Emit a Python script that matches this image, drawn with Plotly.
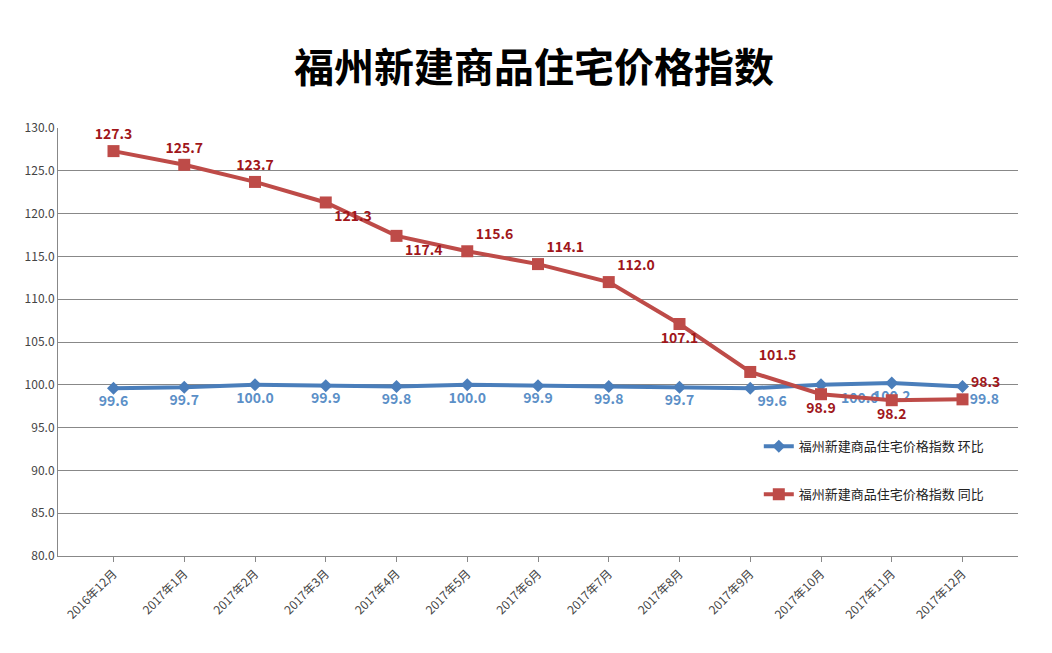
import plotly.graph_objects as go

months = ["2016年12月", "2017年1月", "2017年2月", "2017年3月", "2017年4月", "2017年5月", "2017年6月",
          "2017年7月", "2017年8月", "2017年9月", "2017年10月", "2017年11月", "2017年12月"]
huanbi = [99.6, 99.7, 100.0, 99.9, 99.8, 100.0, 99.9, 99.8, 99.7, 99.6, 100.0, 100.2, 99.8]
tongbi = [127.3, 125.7, 123.7, 121.3, 117.4, 115.6, 114.1, 112.0, 107.1, 101.5, 98.9, 98.2, 98.3]

blue_pos = ["bottom center"] * 9 + ["bottom right", "bottom right", "bottom center", "bottom right"]
red_pos = ["top center", "top center", "top center", "bottom right", "bottom right", "top right",
           "top right", "top right", "bottom center", "top right", "bottom center", "bottom center",
           "top right"]
blue_txt = [f"{v:.1f}" for v in huanbi]
blue_txt[10] = "    " + blue_txt[10]  # nudge right, away from 98.9

font = "Noto Sans CJK SC"
fig = go.Figure()
fig.add_trace(go.Scatter(
    x=months, y=huanbi, name="福州新建商品住宅价格指数 环比", mode="lines+markers+text",
    legendgroup="a",
    line=dict(color="#4a7ebb", width=4), marker=dict(symbol="diamond", size=10, color="#4a7ebb"),
    text=blue_txt, textposition=blue_pos,
    texttemplate="<b>%{text}</b>",
    textfont=dict(color="#5b8fc7", size=14, family=font),
))
fig.add_trace(go.Scatter(
    x=months, y=tongbi, name="福州新建商品住宅价格指数 同比", mode="lines+markers+text",
    legendgroup="b",
    line=dict(color="#be4b48", width=4), marker=dict(symbol="square", size=12, color="#be4b48"),
    text=[f"{v:.1f}" for v in tongbi], textposition=red_pos,
    texttemplate="<b>%{text}</b>",
    textfont=dict(color="#a0161a", size=14, family=font),
))
fig.update_layout(
    width=1052, height=653, template="plotly_white",
    margin=dict(l=50, r=42, t=120, b=105),
    font=dict(family=font, size=12, color="#333"),
    title=dict(text="<b>福州新建商品住宅价格指数</b>", x=0.5, y=0.93, xanchor="center",
               font=dict(size=40, color="black", family=font)),
    legend=dict(x=0.73, y=0.2, xanchor="left", yanchor="middle", tracegroupgap=28,
                font=dict(size=13, color="#222"), bgcolor="rgba(0,0,0,0)"),
)
fig.update_xaxes(tickangle=-45, showline=True, linecolor="#888", ticks="outside", ticklen=5,
                 tickcolor="#888", showgrid=False, tickfont=dict(size=12, color="#444"))
fig.update_yaxes(range=[80, 130], dtick=5, tickformat=".1f", showgrid=True, gridcolor="#888",
                 gridwidth=1, showline=True, linecolor="#888", zeroline=False,
                 tickfont=dict(size=12, color="#444"))
fig.write_html("out.html")
